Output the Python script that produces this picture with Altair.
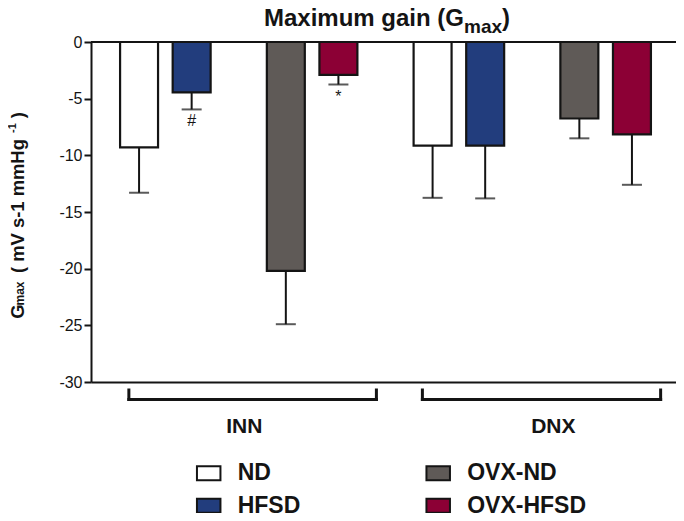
import altair as alt
import pandas as pd

FONT = "Liberation Sans"
INK = "#141414"

conditions = ["INN", "DNX"]
groups = ["ND", "HFSD", "OVX-ND", "OVX-HFSD"]
mean_inn = [-9.3, -4.45, -20.2, -2.9]
mean_dnx = [-9.15, -9.15, -6.75, -8.15]
sem_inn = [4.0, 1.5, 4.7, 0.85]
sem_dnx = [4.6, 4.65, 1.75, 4.45]
sig_inn = ["", "#", "", "*"]
sig_dnx = ["", "", "", ""]
y_ticks = [-30, -25, -20, -15, -10, -5, 0]
group_colors = ["#ffffff", "#223d7d", "#5f5a57", "#8c0035"]

rows = []
for cond, means, sems, sigs in [("INN", mean_inn, sem_inn, sig_inn),
                                ("DNX", mean_dnx, sem_dnx, sig_dnx)]:
    for g, m, s, sg in zip(groups, means, sems, sigs):
        rows.append(dict(condition=cond, group=g,
                         pair=cond + ("|OVX" if g.startswith("OVX") else "|lean"),
                         diet="HFSD" if g.endswith("HFSD") else "ND",
                         mean=m, sem=s, sig=sg))
df = pd.DataFrame(rows)
pairs = [c + s for c in conditions for s in ("|lean", "|OVX")]

xscale = alt.Scale(domain=pairs, paddingInner=0.383, paddingOuter=0.1845, align=0.537)
offscale = alt.Scale(domain=["ND", "HFSD"], paddingInner=0.278, paddingOuter=0)
yscale = alt.Scale(domain=[-30, 0], nice=False)

X = alt.X("pair:N", scale=xscale, title=None,
          axis=alt.Axis(labels=False, ticks=False, domain=True, domainWidth=2,
                        domainColor=INK, grid=False, title=None))
XO = alt.XOffset("diet:N", scale=offscale)

base = alt.Chart(df)

bars = base.mark_bar(stroke=INK, strokeWidth=2.2).encode(
    x=X, xOffset=XO,
    y=alt.Y("mean:Q", scale=yscale, title=None,
            axis=alt.Axis(values=y_ticks, labelExpr="datum.value + ''", title=None,
                          labelFont=FONT, labelFontSize=16, labelColor=INK,
                          labelPadding=2, tickSize=7, tickWidth=2, tickColor=INK,
                          domainWidth=2, domainColor=INK, grid=False)),
    color=alt.Color("group:N", scale=alt.Scale(domain=groups, range=group_colors),
                    legend=alt.Legend(title=None, orient="none", legendX=104.7, legendY=418.25,
                                      columns=2, columnPadding=121.5, rowPadding=7.5,
                                      symbolType="M-1,-0.6H1V0.6H-1Z", symbolSize=552,
                                      symbolStrokeWidth=2, symbolStrokeColor=INK,
                                      symbolOpacity=1,
                                      labelFontSize=23, labelFontWeight="bold",
                                      labelFont=FONT, labelColor=INK, labelOffset=16,
                                      padding=0)),
)

withlow = base.transform_calculate(lower="datum.mean - datum.sem")

err = withlow.mark_rule(strokeWidth=2, color=INK).encode(
    x=X, xOffset=XO, y=alt.Y("mean:Q", title=None), y2="lower:Q")
cap = withlow.mark_tick(orient="horizontal", size=20, thickness=2, color=INK).encode(
    x=X, xOffset=XO, y=alt.Y("lower:Q", title=None))
sig = withlow.mark_text(baseline="top", dy=4, fontSize=16, font=FONT, color=INK).encode(
    x=X, xOffset=XO, y=alt.Y("lower:Q", title=None), text="sig:N")

zero = alt.Chart(alt.Data(values=[{}])).mark_rule(strokeWidth=2, color=INK).encode(
    y=alt.datum(0))

br_df = pd.DataFrame({"condition": conditions,
                      "start": [c + "|lean" for c in conditions],
                      "end": [c + "|OVX" for c in conditions]})
# per-bracket end offset and label shift (pixels), as drawn in the reference
bracket_style = {"INN": (19.0, 33.7), "DNX": (9.7, 49.2)}

bracket_layers = []
for cond in conditions:
    end_off, lab_dx = bracket_style[cond]
    brc = alt.Chart(br_df).transform_filter(alt.datum.condition == cond)
    bracket_layers += [
        brc.mark_rule(strokeWidth=3, color=INK, strokeCap="square", x2Offset=end_off).encode(
            x=alt.X("start:N", scale=xscale, bandPosition=0.097, title=None),
            x2=alt.X2("end:N", bandPosition=1),
            y=alt.value(357.5)),
        brc.mark_rule(strokeWidth=3, color=INK, strokeCap="square").encode(
            x=alt.X("start:N", scale=xscale, bandPosition=0.097, title=None),
            y=alt.value(348), y2=alt.value(357.5)),
        brc.mark_rule(strokeWidth=3, color=INK, strokeCap="square", xOffset=end_off).encode(
            x=alt.X("end:N", scale=xscale, bandPosition=1, title=None),
            y=alt.value(348), y2=alt.value(357.5)),
        brc.mark_text(fontSize=21, fontWeight="bold", font=FONT, color=INK,
                      baseline="alphabetic", dx=lab_dx).encode(
            x=alt.X("start:N", scale=xscale, bandPosition=1, title=None),
            y=alt.value(391), text="condition:N"),
    ]


def piece(text, x, y, size, angle=0):
    return alt.Chart(alt.Data(values=[{}])).mark_text(
        text=text, fontSize=size, fontWeight="bold", font=FONT, color=INK,
        align="left", baseline="alphabetic", angle=angle
    ).encode(x=alt.value(x), y=alt.value(y))


pieces = [
    piece("Maximum gain (G", 173, -16, 24),
    piece("max", 373, -9, 19),
    piece(")", 411, -16, 24),
    piece("G", -67.5, 276.7, 18.4, 270),
    piece("max", -67, 263.5, 12, 270),
    piece("( mV s-1 mmHg", -67.5, 231, 18.4, 270),
    piece("-1", -75.5, 91, 11, 270),
    piece(")", -67.5, 76.3, 18.4, 270),
]

chart = alt.layer(bars, err, cap, sig, zero, *bracket_layers, *pieces).properties(
    width=585, height=340,
    autosize=alt.AutoSizeParams(type="none"),
    padding={"left": 83, "top": 34, "right": 0, "bottom": 131},
).configure_view(stroke=None)

chart.save("out.html", embed_options={"renderer": "svg", "actions": False})
